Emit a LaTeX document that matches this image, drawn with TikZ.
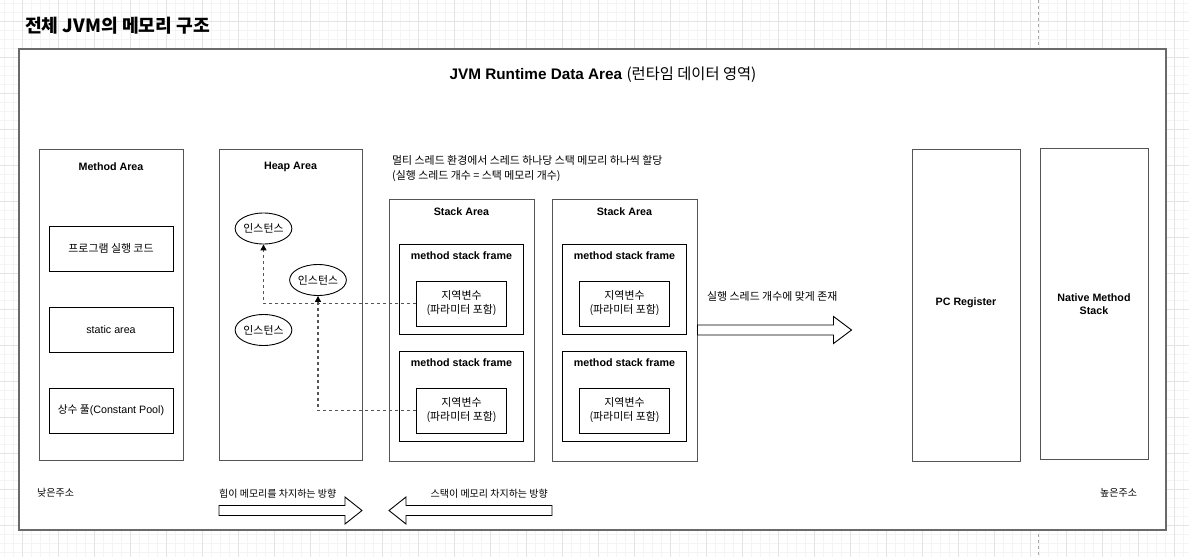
\documentclass[tikz,border=0pt]{standalone}
\usepackage{fontspec}
\setmainfont{Liberation Sans}
\newfontfamily\kr{Noto Sans CJK KR}
\usetikzlibrary{arrows.meta,shapes.geometric}

\definecolor{gridminor}{HTML}{F4F4F4}
\definecolor{gridmajor}{HTML}{E3E3E3}
\definecolor{edge}{HTML}{555555}
\definecolor{outeredge}{HTML}{6A6A6A}

\tikzset{
  area/.style={draw=edge, line width=1pt, fill=white, inner sep=0pt},
  cell/.style={draw=black, line width=0.9pt, fill=white, inner sep=0pt},
  inst/.style={ellipse, draw=black, line width=0.9pt, fill=white,
    minimum width=55pt, minimum height=31pt, inner sep=0pt,
    font=\kr\fontsize{10.9}{12}\selectfont},
  lbl/.style={inner sep=0pt, font=\bfseries\fontsize{10.7}{13}\selectfont},
  txt/.style={inner sep=0pt, font=\fontsize{10.7}{13}\selectfont},
  krtxt/.style={inner sep=0pt, align=left, font=\kr\fontsize{10.9}{15}\selectfont},
  dirtxt/.style={inner sep=0pt, font=\kr\fontsize{10}{12}\selectfont},
  ref/.style={draw=edge, line width=1.3pt, dash pattern=on 3pt off 3pt,
    -{Triangle[width=6pt,length=6pt,color=black]}},
  block/.style={draw=black, line width=0.9pt, fill=white},
}

\begin{document}
\begin{tikzpicture}[x=1pt,y=-1pt]
  \useasboundingbox (0,0) rectangle (1189,557);
  \fill[white] (0,0) rectangle (1189,557);
  % background grid
  \foreach \gx in {4,13,...,1189} \draw[gridminor, line width=0.6pt] (\gx,0) -- (\gx,557);
  \foreach \gy in {3,12,...,557} \draw[gridminor, line width=0.6pt] (0,\gy) -- (1189,\gy);
  \foreach \gx in {22,58,...,1189} \draw[gridmajor, line width=0.6pt] (\gx,0) -- (\gx,557);
  \foreach \gy in {21,57,...,557} \draw[gridmajor, line width=0.6pt] (0,\gy) -- (1189,\gy);
  \draw[gray!70, line width=0.8pt, dash pattern=on 3pt off 3pt] (1038,0) -- (1038,557);

  \node[anchor=west, inner sep=0pt, font=\kr\bfseries\fontsize{18.2}{20}\selectfont] (title) at (25,26) {전체 JVM의 메모리 구조};

  % runtime data area
  \node[draw=outeredge, line width=2pt, fill=white, minimum width=1147pt, minimum height=481pt] (rda) at (592.5,289.5) {};
  \node[inner sep=0pt, font=\fontsize{15.3}{18}\selectfont] (rdatitle) at (603,75) {\textbf{JVM Runtime Data Area} {\kr (런타임 데이터 영역)}};

  % method area
  \node[area, minimum width=144pt, minimum height=311pt] (method) at (111,304.5) {};
  \node[lbl] (methodlbl) at (111,167) {Method Area};
  \node[cell, minimum width=124pt, minimum height=45pt, font=\kr\fontsize{10.9}{12}\selectfont] (code) at (111,248.5) {프로그램 실행 코드};
  \node[cell, minimum width=124pt, minimum height=45pt, txt] (static) at (111,329.5) {static area};
  \node[cell, minimum width=124pt, minimum height=45pt, txt] (pool) at (111,410.5) {{\kr 상수 풀}(Constant Pool)};

  % heap area
  \node[area, minimum width=143pt, minimum height=311pt] (heap) at (290.5,304.5) {};
  \node[lbl] (heaplbl) at (290.5,167) {Heap Area};
  \node[inst] (inst1) at (263.5,228.5) {인스턴스};
  \node[inst] (inst2) at (318,280) {인스턴스};
  \node[inst] (inst3) at (263.5,330) {인스턴스};

  % stack areas
  \node[krtxt, anchor=west] (threadnote) at (392,168.5) {멀티 스레드 환경에서 스레드 하나당 스택 메모리 하나씩 할당\\(실행 스레드 개수 = 스택 메모리 개수)};
  \foreach \s/\sx in {s1/461.5, s2/624.5} {
    \node[area, minimum width=145pt, minimum height=262pt] (\s) at (\sx,330) {};
    \node[lbl] (\s lbl) at (\sx,212) {Stack Area};
    \node[cell, minimum width=124pt, minimum height=90pt] (\s f1) at (\sx,289) {};
    \node[lbl] (\s f1lbl) at (\sx,256) {method stack frame};
    \node[cell, minimum width=90pt, minimum height=45pt, align=center, font=\kr\fontsize{10.9}{14}\selectfont] (\s v1) at (\sx,303.5) {지역변수\\(파라미터 포함)};
    \node[cell, minimum width=124pt, minimum height=90pt] (\s f2) at (\sx,396.5) {};
    \node[lbl] (\s f2lbl) at (\sx,363) {method stack frame};
    \node[cell, minimum width=90pt, minimum height=45pt, align=center, font=\kr\fontsize{10.9}{14}\selectfont] (\s v2) at (\sx,410.5) {지역변수\\(파라미터 포함)};
  }

  % references into the heap
  \draw[ref] (s1v1.west) -| (inst1.south);
  \draw[ref] (s1v2.west) -| (inst2.south);

  % per-thread arrow
  \node[krtxt, anchor=west] (pernote) at (707,296) {실행 스레드 개수에 맞게 존재};
  \draw[block] (s2.east) ++(0,-5) -- ++(136,0) -- ++(0,-8.5) -- ++(18,13.5)
    -- ++(-18,13.5) -- ++(0,-8.5) -- ++(-136,0) -- cycle;

  % pc register, native method stack
  \node[area, minimum width=108pt, minimum height=312pt] (pc) at (966,305) {};
  \node[lbl] (pclbl) at (966,303) {PC Register};
  \node[area, minimum width=108pt, minimum height=311pt] (native) at (1094,303.5) {};
  \node[lbl, align=center] (nativelbl) at (1094,304.5) {Native Method\\Stack};

  % address direction
  \node[dirtxt, anchor=west] (low) at (37,493) {낮은주소};
  \node[dirtxt, anchor=west] (high) at (1100,493) {높은주소};
  \node[dirtxt, anchor=west] (heapdir) at (219,494) {힙이 메모리를 차지하는 방향};
  \node[dirtxt, anchor=east] (stackdir) at (548,494) {스택이 메모리 차지하는 방향};
  \draw[block] (219,505.5) -- (345,505.5) -- (345,497) -- (362,510.5)
    -- (345,524) -- (345,515.5) -- (219,515.5) -- cycle;
  \draw[block] (552,505.5) -- (406,505.5) -- (406,497) -- (389,510.5)
    -- (406,524) -- (406,515.5) -- (552,515.5) -- cycle;
\end{tikzpicture}
\end{document}
